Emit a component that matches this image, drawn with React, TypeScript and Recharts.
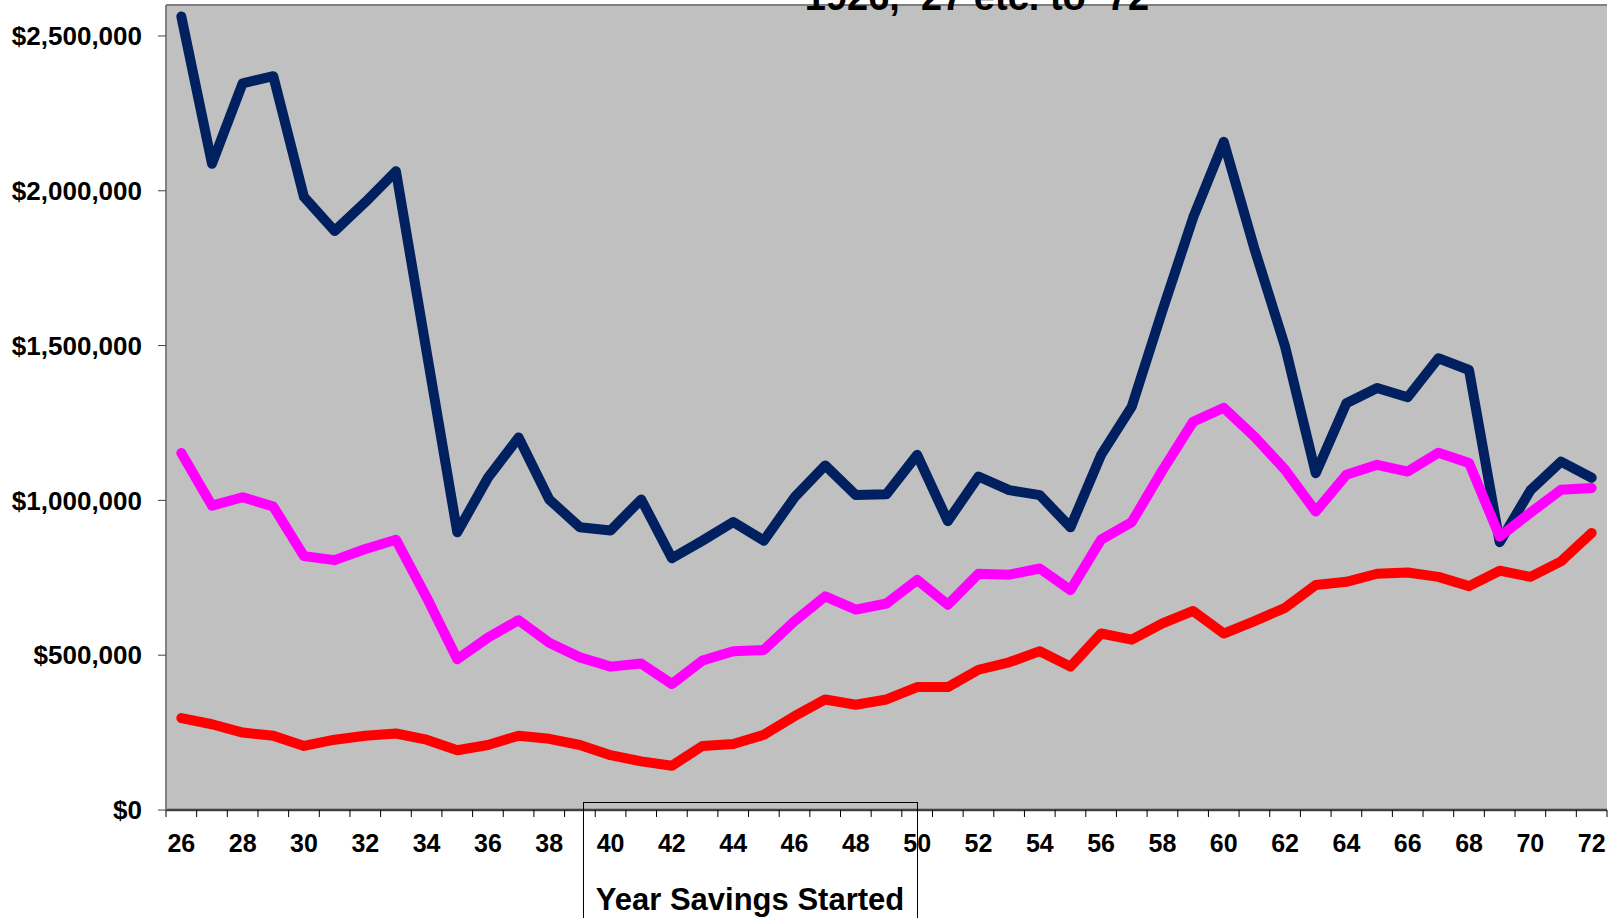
import { CartesianGrid, Line, LineChart, ReferenceLine, XAxis, YAxis } from 'recharts'

const years = [
  '26', '27', '28', '29', '30', '31', '32', '33', '34', '35', '36', '37',
  '38', '39', '40', '41', '42', '43', '44', '45', '46', '47', '48', '49',
  '50', '51', '52', '53', '54', '55', '56', '57', '58', '59', '60', '61',
  '62', '63', '64', '65', '66', '67', '68', '69', '70', '71', '72',
]

const navyValues = [
  2563000, 2087000, 2347000, 2370000, 1980000, 1870000, 1963000, 2063000,
  1480000, 897000, 1073000, 1203000, 1003000, 913000, 903000, 1003000,
  813000, 870000, 930000, 870000, 1010000, 1113000, 1017000, 1020000,
  1147000, 933000, 1077000, 1033000, 1017000, 913000, 1147000, 1303000,
  1613000, 1913000, 2158000, 1813000, 1497000, 1088000, 1314000, 1363000,
  1333000, 1459000, 1421000, 865000, 1032000, 1125000, 1073000,
]

const magentaValues = [
  1153000, 983000, 1010000, 980000, 820000, 807000, 843000, 873000,
  687000, 487000, 557000, 613000, 540000, 493000, 463000, 473000,
  407000, 483000, 513000, 517000, 610000, 690000, 647000, 667000,
  743000, 663000, 763000, 760000, 780000, 710000, 873000, 930000,
  1097000, 1254000, 1299000, 1206000, 1099000, 964000, 1083000, 1115000,
  1093000, 1154000, 1121000, 883000, 960000, 1034000, 1040000,
]

const redValues = [
  297000, 277000, 250000, 240000, 207000, 227000, 240000, 247000,
  227000, 193000, 210000, 240000, 230000, 210000, 177000, 157000,
  143000, 207000, 213000, 243000, 303000, 357000, 340000, 357000,
  397000, 397000, 453000, 477000, 513000, 463000, 570000, 550000,
  603000, 643000, 570000, 610000, 653000, 727000, 737000, 763000,
  767000, 753000, 723000, 773000, 753000, 803000, 895000,
]

const yTicks = [0, 500000, 1000000, 1500000, 2000000, 2500000]

const data = years.map((year, i) => ({
  year,
  navy: navyValues[i],
  magenta: magentaValues[i],
  red: redValues[i],
}))

const W = 1619
const H = 918
const PLOT_LEFT = 166
const PLOT_RIGHT = 1607
const PLOT_BOTTOM = 810
const BAND = (PLOT_RIGHT - PLOT_LEFT) / years.length
const FONT = '"Liberation Sans", Arial, sans-serif'

function XTick(props: any) {
  const { x, payload, index } = props
  const last = index === years.length - 1
  return (
    <g>
      <line x1={x - BAND / 2} x2={x - BAND / 2} y1={PLOT_BOTTOM} y2={PLOT_BOTTOM + 7} stroke="#000" />
      {last && (
        <line x1={x + BAND / 2} x2={x + BAND / 2} y1={PLOT_BOTTOM} y2={PLOT_BOTTOM + 7} stroke="#000" />
      )}
      {index % 2 === 0 && (
        <text x={x} y={852} textAnchor="middle" fontFamily={FONT} fontWeight="bold" fontSize={25} fill="#000">
          {payload.value}
        </text>
      )}
    </g>
  )
}

export default function App() {
  return (
    <div style={{ position: 'absolute', left: 0, top: 0, width: W, height: H, background: '#fff' }}>
      <LineChart width={W} height={H} data={data} margin={{ top: 5, right: W - PLOT_RIGHT, left: 0, bottom: 48 }}>
        <CartesianGrid vertical={false} stroke="#000" strokeWidth={2} fill="#C0C0C0" fillOpacity={1} />
        <XAxis
          dataKey="year"
          scale="band"
          interval={0}
          height={60}
          tickLine={false}
          axisLine={{ stroke: '#404040', strokeWidth: 2.5 }}
          tick={<XTick />}
        />
        <YAxis
          yAxisId="left"
          width={PLOT_LEFT}
          domain={[0, 2600000]}
          ticks={yTicks}
          tickSize={8}
          tickMargin={16}
          tickLine={{ stroke: '#404040' }}
          axisLine={{ stroke: '#808080', strokeWidth: 2 }}
          tick={{ fill: '#000', fontSize: 26, fontWeight: 'bold', fontFamily: FONT }}
          tickFormatter={(v: number) => `$${v.toLocaleString('en-US')}`}
        />
        <YAxis
          yAxisId="right"
          orientation="right"
          width={0}
          domain={[0, 1]}
          tick={false}
          tickLine={false}
          axisLine={{ stroke: '#808080', strokeWidth: 3 }}
        />
        <ReferenceLine yAxisId="left" y={2600000} stroke="#808080" strokeWidth={2} />
        <Line
          yAxisId="left"
          type="linear"
          dataKey="navy"
          stroke="#002060"
          strokeWidth={10}
          strokeLinecap="round"
          strokeLinejoin="round"
          dot={false}
          isAnimationActive={false}
        />
        <Line
          yAxisId="left"
          type="linear"
          dataKey="magenta"
          stroke="#FF00FF"
          strokeWidth={10}
          strokeLinecap="round"
          strokeLinejoin="round"
          dot={false}
          isAnimationActive={false}
        />
        <Line
          yAxisId="left"
          type="linear"
          dataKey="red"
          stroke="#FF0000"
          strokeWidth={10}
          strokeLinecap="round"
          strokeLinejoin="round"
          dot={false}
          isAnimationActive={false}
        />
      </LineChart>
      <svg
        width={W}
        height={H}
        style={{ position: 'absolute', left: 0, top: 0, pointerEvents: 'none' }}
      >
        <text x={977} y={10} textAnchor="middle" fontFamily={FONT} fontWeight="bold" fontSize={38} fill="#000">
          1926, ’27 etc. to ’72
        </text>
        <rect x={583.5} y={802.5} width={334} height={200} fill="none" stroke="#000" strokeWidth={1} />
        <text x={750} y={910} textAnchor="middle" fontFamily={FONT} fontWeight="bold" fontSize={31} fill="#000">
          Year Savings Started
        </text>
      </svg>
    </div>
  )
}
